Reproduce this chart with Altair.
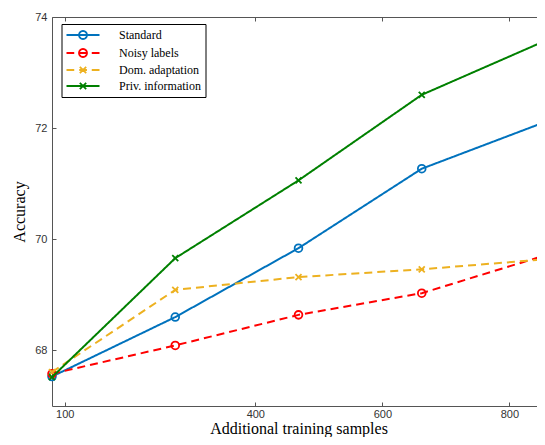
import math
import altair as alt
import pandas as pd

# ---- data ----
series = ["Standard", "Noisy labels", "Dom. adaptation", "Priv. information"]
samples = [80, 274, 468, 662, 856]
acc_standard = [67.53, 68.60, 69.84, 71.27, 72.11]
acc_noisy = [67.58, 68.09, 68.64, 69.03, 69.71]
acc_dom = [67.61, 69.09, 69.32, 69.46, 69.64]
acc_priv = [67.52, 69.66, 71.06, 72.60, 73.57]
x_ticks = [100, 400, 600, 800]
y_ticks = [68, 70, 72, 74]

# ---- styles ----
colors = ["#0072BD", "#FF0000", "#EDB120", "#008000"]
dashes = [[1, 0], [8, 5], [8, 5], [1, 0]]
X_PATH = "M-1,-1L1,1M-1,1L1,-1"
marker_shapes = ["circle", "circle", X_PATH, X_PATH]
marker_sizes = [60, 60, 36, 36]
axis_color = "#555555"
label_color = "#333333"


def circle_path(r, n=24):
    pts = [(r * math.cos(2 * math.pi * i / n), r * math.sin(2 * math.pi * i / n)) for i in range(n)]
    return "M" + "L".join(f"{x:.3f},{y:.3f}" for x, y in pts) + "Z"


def x_path(h):
    return f"M{-h},{-h}L{h},{h}M{-h},{h}L{h},{-h}"


# legend symbol drawn at 6 px per unit (symbolSize 144), 33 px long
solid = "M-2.75,0L2.75,0"
dashed = "M-2.75,0L-1.46,0M-0.63,0L0.66,0M1.46,0L2.75,0"
legend_paths = [
    solid + circle_path(0.667),
    dashed + circle_path(0.667),
    dashed + x_path(0.53),
    solid + x_path(0.53),
]

rows = []
for s, vals in zip(series, [acc_standard, acc_noisy, acc_dom, acc_priv]):
    for x, v in zip(samples, vals):
        rows.append({"series": s, "samples": x, "accuracy": v})
df = pd.DataFrame(rows)

xs = alt.Scale(domain=[80, 856], nice=False, zero=False)
ys = alt.Scale(domain=[67, 74], nice=False, zero=False)
cs = alt.Scale(domain=series, range=colors)

bottom_axis = alt.Axis(
    orient="bottom", values=x_ticks, format="d", domain=False, grid=False,
    tickSize=4, tickColor=axis_color, tickWidth=1, offset=-4,
    labelFont="Liberation Sans", labelFontSize=11, labelColor=label_color,
    labelPadding=2, labelFlush=False,
    title="Additional training samples", titleFont="Liberation Serif",
    titleFontSize=16, titleFontWeight="normal", titleColor="black",
    titleBaseline="alphabetic", titleY=31.3,
)
left_axis = alt.Axis(
    orient="left", values=y_ticks, format="d", domain=False, grid=False,
    tickSize=4, tickColor=axis_color, tickWidth=1, offset=-4,
    labelFont="Liberation Sans", labelFontSize=11, labelColor=label_color,
    labelPadding=5, labelFlush=False,
    title="Accuracy", titleFont="Liberation Serif", titleFontSize=16,
    titleFontWeight="normal", titleColor="black", titlePadding=7,
)
top_axis = alt.Axis(
    orient="top", values=x_ticks, domain=False, grid=False, labels=False,
    tickSize=4, tickColor=axis_color, tickWidth=1, offset=-4, title=None,
)
right_axis = alt.Axis(
    orient="right", values=y_ticks, domain=False, grid=False, labels=False,
    tickSize=4, tickColor=axis_color, tickWidth=1, offset=-4, title=None,
)

pad = "\u2003\u2009\u2009"
leg = alt.Legend(
    orient="none", legendX=9.5, legendY=7, direction="vertical", title=None,
    fillColor="white", strokeColor="black", padding=4, cornerRadius=0,
    symbolSize=144, symbolOffset=10.5, symbolStrokeWidth=1.8,
    symbolFillColor="transparent",
    labelFont="Liberation Serif", labelFontSize=12, labelColor="black",
    labelOffset=29, rowPadding=2, labelExpr=f"datum.label + '{pad}'",
)

base = alt.Chart(df)

legend_layer = base.transform_filter("datum.samples < 0").mark_point(
    filled=False, opacity=1
).encode(
    x=alt.X("samples:Q", scale=xs, axis=top_axis),
    y=alt.Y("accuracy:Q", scale=ys, axis=right_axis),
    color=alt.Color("series:N", scale=cs, legend=leg),
    shape=alt.Shape("series:N", scale=alt.Scale(domain=series, range=legend_paths), legend=leg),
)

layers = [legend_layer]
for i, s in enumerate(series):
    first = i == 0
    line = base.transform_filter(alt.datum.series == s).mark_line(
        strokeWidth=2, strokeDash=dashes[i], opacity=1
    ).encode(
        x=alt.X("samples:Q", scale=xs, axis=bottom_axis if first else None),
        y=alt.Y("accuracy:Q", scale=ys, axis=left_axis if first else None),
        color=alt.Color("series:N", scale=cs),
    )
    pts = base.transform_filter(alt.datum.series == s).mark_point(
        shape=marker_shapes[i], filled=False, size=marker_sizes[i], strokeWidth=1.8, opacity=1
    ).encode(
        x=alt.X("samples:Q", scale=xs, axis=None),
        y=alt.Y("accuracy:Q", scale=ys, axis=None),
        color=alt.Color("series:N", scale=cs),
    )
    layers += [line, pts]

chart = alt.layer(*layers).resolve_axis(
    x="independent", y="independent"
).properties(
    width=493, height=389,
    padding={"left": 44, "top": 9, "right": -8, "bottom": 31},
    autosize=alt.AutoSizeParams(type="none"),
).configure_view(stroke=axis_color, strokeWidth=1)

chart.save("out.html", embed_options={"renderer": "svg", "actions": False})
